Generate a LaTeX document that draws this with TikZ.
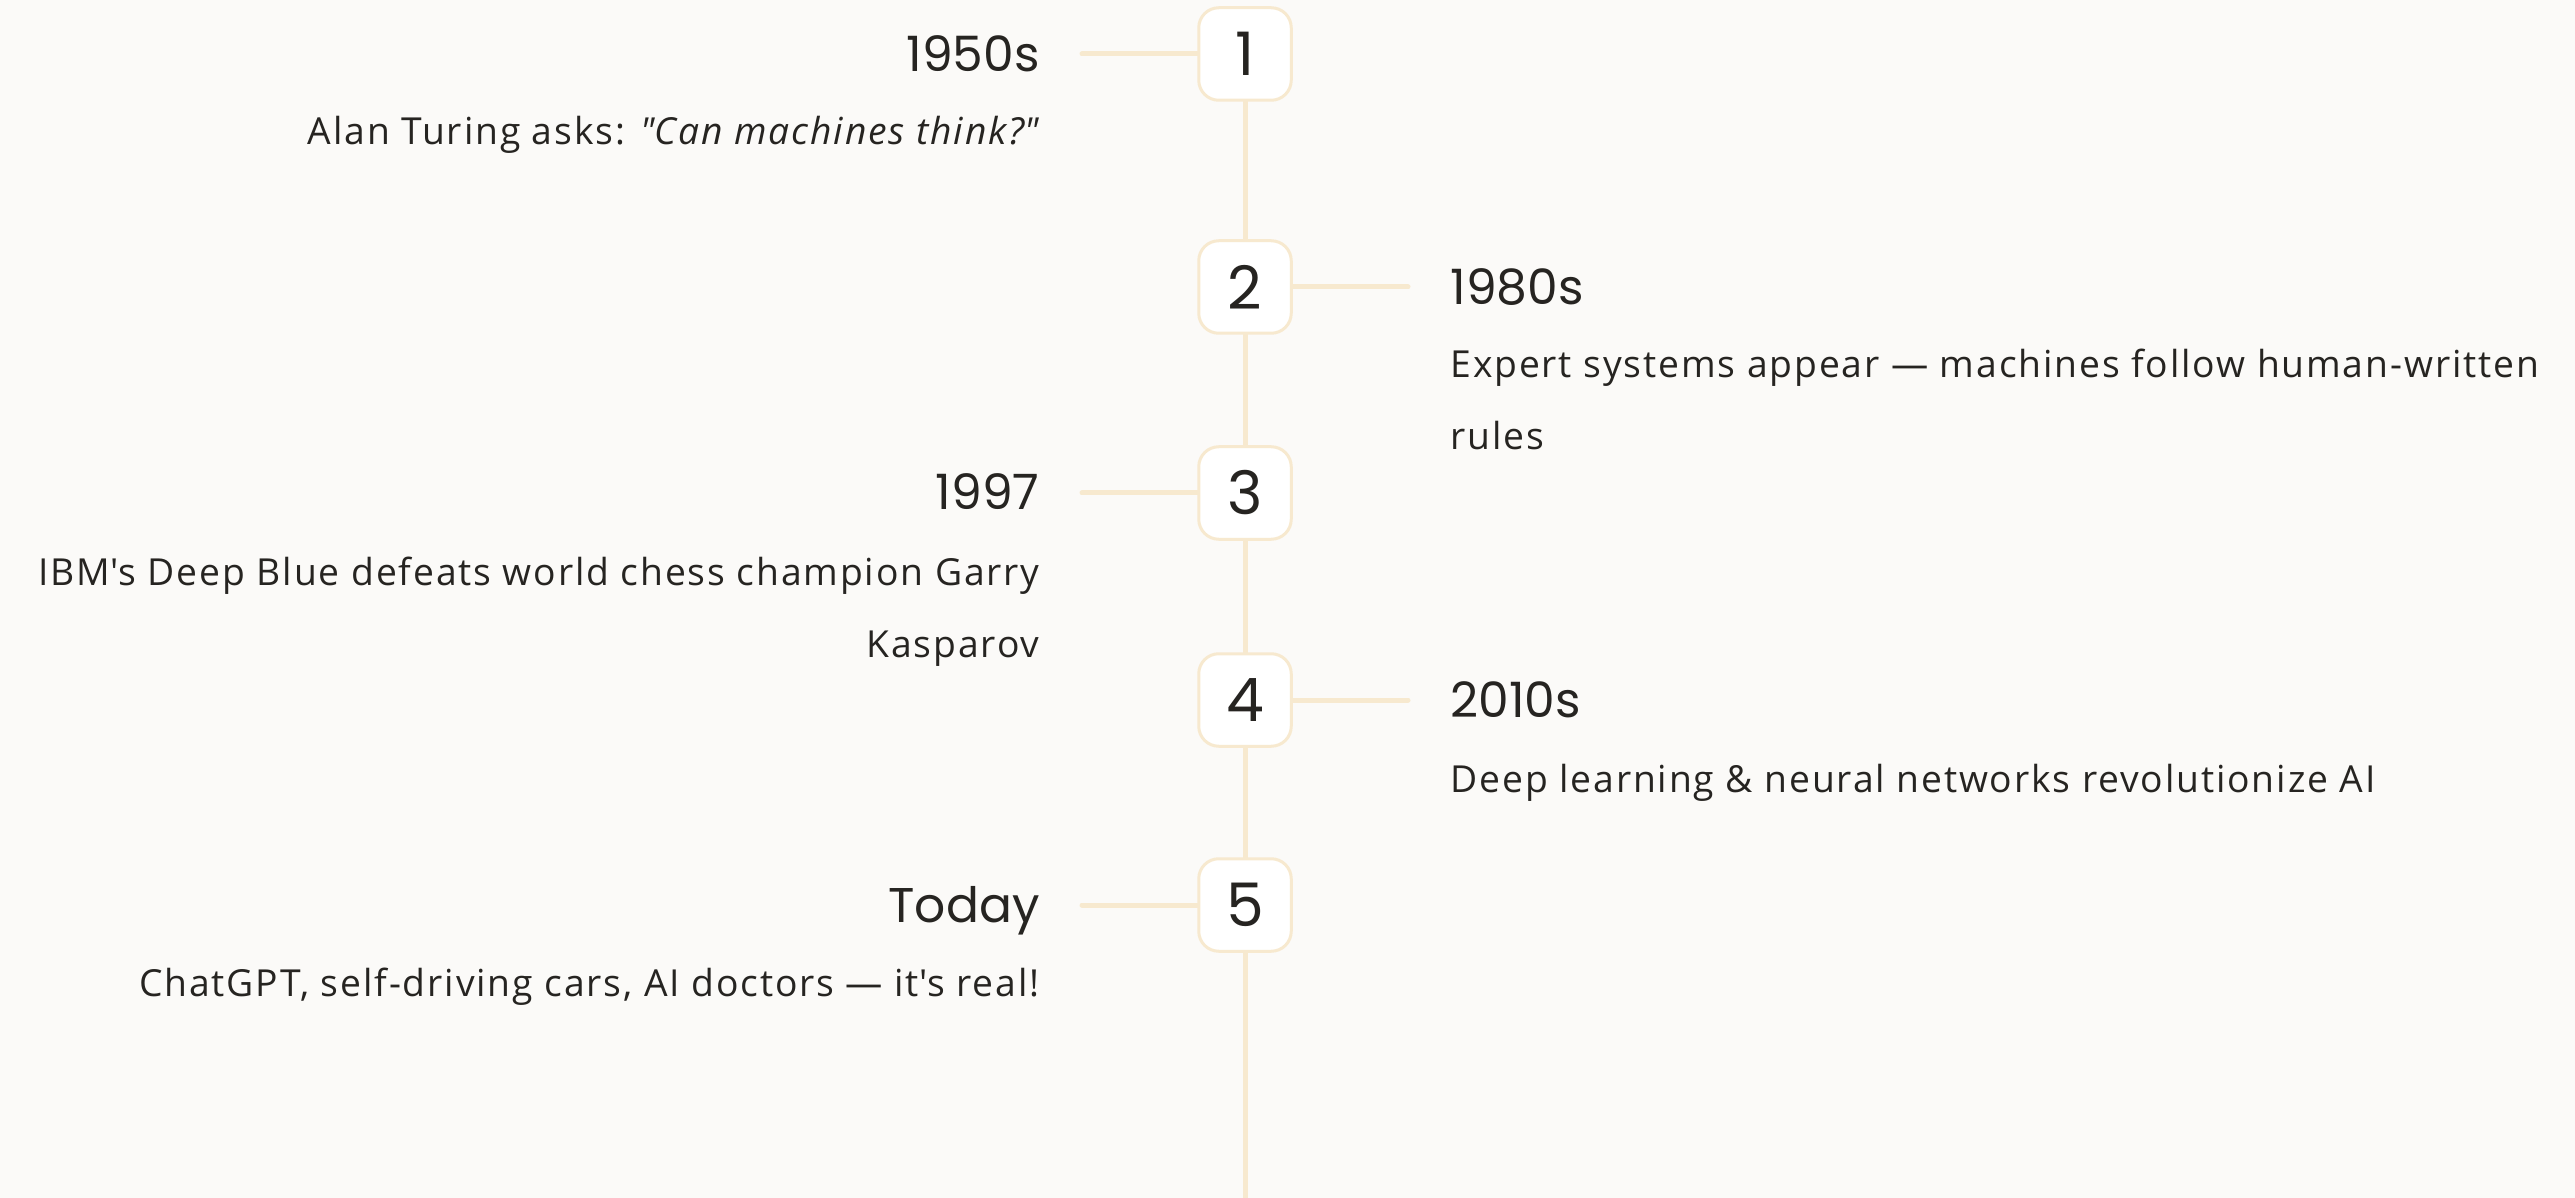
\documentclass[tikz,border=0pt]{standalone}
\usepackage{fontspec}
\setmainfont{Open Sans}[LetterSpace = 5]
\newfontfamily\headfont{Poppins}
\usepackage{tikz}

\definecolor{paper}{RGB}{251,250,248}
\definecolor{cream}{RGB}{247,233,207}
\definecolor{ink}{RGB}{38,36,33}

\begin{document}
\begin{tikzpicture}[x = 0.4pt, y = -0.4pt,
                        stepbox/.style = {rectangle, rounded corners = 8pt, draw = cream, line width = 1.2pt,
                                          fill = white, minimum size = 37pt, inner sep = 0pt, text = ink,
                                          font = \headfont\fontsize{24}{26}\selectfont},
                        spine/.style = {draw = cream, line width = 2pt},
                        stub/.style = {draw = cream, line width = 2pt, line cap = round},
                        era/.style = {inner sep = 0pt, text = ink, font = \headfont\fontsize{19.5}{22}\selectfont},
                        desc/.style = {inner sep = 0pt, text = ink, font = \fontsize{14.9}{28.8}\selectfont}]
      \useasboundingbox (0, 0) rectangle (2575, 1198);
      \fill [paper] (0, 0) rectangle (2575, 1198);

      \coordinate (bottom) at (1245, 1198);
      \coordinate (s1) at (1082, 54);
      \coordinate (s2) at (1408, 287);
      \coordinate (s3) at (1082, 493);
      \coordinate (s4) at (1408, 700);
      \coordinate (s5) at (1082, 905);

      \draw [spine] (1245, 54) -- (bottom);

      \node [stepbox] (b1) at (1245, 54){1};
      \node [stepbox] (b2) at (1245, 287){2};
      \node [stepbox] (b3) at (1245, 493){3};
      \node [stepbox] (b4) at (1245, 700){4};
      \node [stepbox] (b5) at (1245, 905){5};

      \draw [stub] (s1) -- (b1.west);
      \draw [stub] (b2.east) -- (s2);
      \draw [stub] (s3) -- (b3.west);
      \draw [stub] (b4.east) -- (s4);
      \draw [stub] (s5) -- (b5.west);

      \node [era, anchor = base east] (e1) at (1040, 72){1950s};
      \node [desc, anchor = base east] (d1) at (1040, 145){Alan Turing asks: \textit{\textquotedbl Can machines think?\textquotedbl}};

      \node [era, anchor = base west] (e2) at (1450, 305){1980s};
      % base of a two-line node sits on its last line
      \node [desc, anchor = base west, align = left] (d2) at (1450, 450){Expert systems appear — machines follow human-written\\rules};

      \node [era, anchor = base east] (e3) at (1040, 510){1997};
      \node [desc, anchor = base east, align = right] (d3) at (1040, 657){IBM\textquotesingle s Deep Blue defeats world chess champion Garry\\Kasparov};

      \node [era, anchor = base west] (e4) at (1450, 717){2010s};
      \node [desc, anchor = base west] (d4) at (1450, 792){Deep learning \& neural networks revolutionize AI};

      \node [era, anchor = base east] (e5) at (1040, 922){Today};
      \node [desc, anchor = base east] (d5) at (1040, 996){ChatGPT, self-driving cars, AI doctors — it\textquotesingle s real!};
    \end{tikzpicture}
\end{document}
